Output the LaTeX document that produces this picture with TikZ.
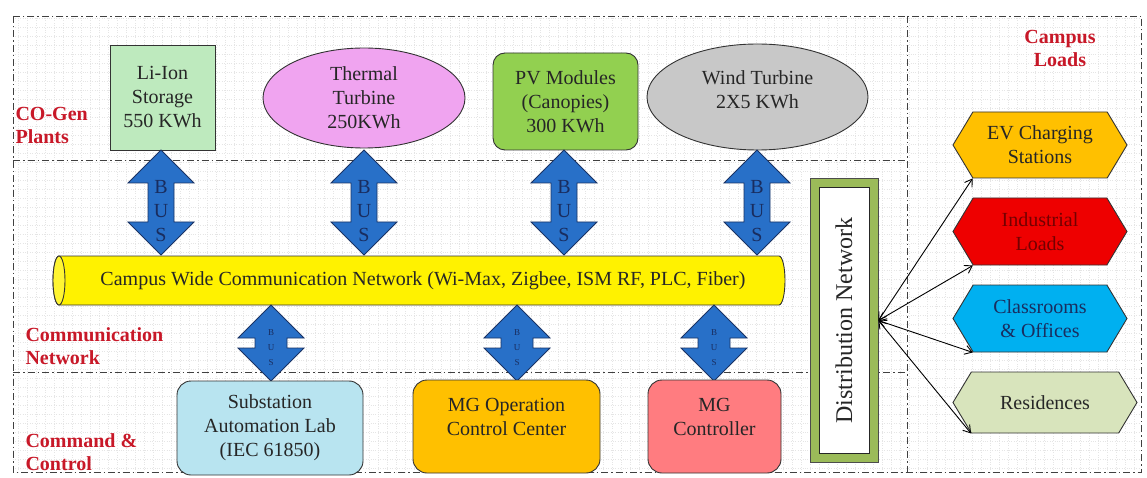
\documentclass[tikz,border=0pt]{standalone}
\usepackage{fontspec}
\setmainfont{Liberation Serif}
\usetikzlibrary{shapes.geometric,shapes.symbols,arrows.meta,calc}

\definecolor{labred}{RGB}{200,24,40}
\definecolor{busblue}{RGB}{40,112,200}
\definecolor{busline}{RGB}{25,50,100}
\definecolor{bustext}{RGB}{25,45,95}
\definecolor{liionfill}{RGB}{190,234,190}
\definecolor{thermfill}{RGB}{240,164,240}
\definecolor{pvfill}{RGB}{146,208,80}
\definecolor{windfill}{RGB}{200,200,200}
\definecolor{subfill}{RGB}{184,228,240}
\definecolor{occfill}{RGB}{255,192,0}
\definecolor{mgcfill}{RGB}{255,124,128}
\definecolor{distgreen}{RGB}{155,187,89}
\definecolor{evfill}{RGB}{255,192,0}
\definecolor{indfill}{RGB}{238,0,0}
\definecolor{clsfill}{RGB}{0,176,240}
\definecolor{resfill}{RGB}{216,228,188}

\tikzset{
  frame/.style={draw=black!75, line width=0.8pt,
    dash pattern=on 7pt off 3pt on 1.5pt off 3pt},
  txt/.style={font=\fontsize{20}{24}\selectfont, text=black!85, align=center},
  plant/.style={txt, draw=black!80, line width=0.9pt},
  layer/.style={font=\fontsize{20}{23}\selectfont\bfseries, text=labred, align=left},
  load/.style={txt, draw=black!80, line width=0.9pt, signal,
    signal to=west and east, signal pointer angle=118},
  bus/.style={draw=busline, line width=0.8pt, fill=busblue},
  feed/.style={<->, >={Straight Barb[length=7pt,width=9pt]}, line width=0.9pt},
}

\begin{document}
\begin{tikzpicture}[x=1pt, y=-1pt]
  \useasboundingbox (0,0) rectangle (1147,478);
  \fill[white] (0,0) rectangle (1147,478);
  \draw[black!10, dotted, step=9pt] (13,16) grid (1141,472);

  % layers
  \draw[frame] (13,16) rectangle (1141,472);
  \draw[frame] (907,16) -- (907,472);
  \draw[frame] (13,160) -- (907,160);
  \draw[frame] (13,372) -- (907,372);

  \node[layer, anchor=west] (cogen) at (12,125) {CO-Gen\\Plants};
  \node[layer, anchor=west] (comm) at (22,346) {Communication\\Network};
  \node[layer, anchor=west] (cmd) at (22,452) {Command \&\\Control};
  \node[layer, align=center] (campus) at (1060,48) {Campus\\Loads};

  % plants
  \node[plant, fill=liionfill, minimum width=105pt, minimum height=105pt]
    (liion) at (162.5,97.5) {Li-Ion\\Storage\\550 KWh};
  \node[plant, ellipse, fill=thermfill, minimum width=202pt, minimum height=100pt]
    (therm) at (364,98) {Thermal\\Turbine\\250KWh};
  \node[plant, fill=pvfill, rounded corners=12pt, minimum width=145pt, minimum height=97pt]
    (pv) at (565.5,101.5) {PV Modules\\(Canopies)\\300 KWh};
  \node[plant, ellipse, fill=windfill, minimum width=221pt, minimum height=106pt]
    (wind) at (757.5,97) {};
  \node[txt] (wind-t) at ([yshift=7pt]wind.center) {Wind Turbine\\2X5 KWh};

  % network (cylinder lying on its side)
  \draw[fill=yellow, draw=black!80, line width=0.9pt]
    (59,256) -- (779,256) arc[start angle=-90, end angle=90, x radius=6, y radius=24.5]
    -- (59,305) arc[start angle=90, end angle=270, x radius=6, y radius=24.5] -- cycle;
  \draw[fill=yellow!80!white, draw=black!80, line width=0.9pt]
    (59,280.5) ellipse[x radius=6, y radius=24.5];
  \node[txt] (net) at (423,281)
    {Campus Wide Communication Network (Wi-Max, Zigbee, ISM RF, PLC, Fiber)};

  % bus links, plants to network
  \foreach \c/\n in {161/a,364/b,564/c,757/d} {
    \draw[bus] (\c,150) -- (\c+33,183) -- (\c+13,183) -- (\c+13,222)
      -- (\c+33,222) -- (\c,255) -- (\c-33,222) -- (\c-13,222)
      -- (\c-13,183) -- (\c-33,183) -- cycle;
    \node[font=\fontsize{20}{24}\selectfont, text=bustext, align=center]
      (bus-\n) at (\c,211) {B\\U\\S};
  }

  % bus links, network to control
  \foreach \c/\n in {271/e,517/f,714/g} {
    \draw[bus] (\c,305) -- (\c+33,338) -- (\c+16,338) -- (\c+16,348)
      -- (\c+33,348) -- (\c,381) -- (\c-33,348) -- (\c-16,348)
      -- (\c-16,338) -- (\c-33,338) -- cycle;
    \node[font=\fontsize{9}{15}\selectfont, text=bustext, align=center]
      (bus-\n) at (\c,348) {B\\U\\S};
  }

  % command and control
  \node[plant, fill=subfill, rounded corners=14pt, minimum width=186pt, minimum height=94pt]
    (sublab) at (270,428) {Substation\\Automation Lab\\(IEC 61850)};
  \node[plant, fill=occfill, rounded corners=14pt, minimum width=187pt, minimum height=93pt]
    (mgocc) at (506.5,426.5) {};
  \node[txt] (mgocc-t) at ([yshift=10pt]mgocc.center) {MG Operation\\Control Center};
  \node[plant, fill=mgcfill, rounded corners=14pt, minimum width=133pt, minimum height=93pt]
    (mgc) at (714.5,426.5) {};
  \node[txt] (mgc-t) at ([yshift=10pt]mgc.center) {MG\\Controller};

  % distribution
  \node[draw=black!70, line width=0.8pt, fill=distgreen, minimum width=68pt,
    minimum height=284pt] (dist) at (844,320.5) {};
  \node[draw=black!85, line width=1pt, fill=white, minimum width=50pt,
    minimum height=266pt] (dist-in) at (dist.center) {};
  \node[txt, font=\fontsize{24}{28}\selectfont, rotate=90] (dist-t) at (dist.center)
    {Distribution Network};

  % loads
  \node[load, fill=evfill, minimum width=174pt, minimum height=66pt]
    (ev) at (1040,145) {EV Charging\\Stations};
  \node[load, fill=indfill, text=red!45!black, minimum width=174pt, minimum height=67pt]
    (ind) at (1040,231.5) {Industrial\\Loads};
  \node[load, fill=clsfill, text=bustext, minimum width=174pt, minimum height=67pt]
    (cls) at (1040,318.5) {Classrooms\\\& Offices};
  \node[load, fill=resfill, minimum width=184pt, minimum height=61pt]
    (res) at (1045,402.5) {Residences};

  \foreach \n in {ev,ind,cls,res}
    \draw[feed] (dist.east) -- (\n.south west);
\end{tikzpicture}
\end{document}
